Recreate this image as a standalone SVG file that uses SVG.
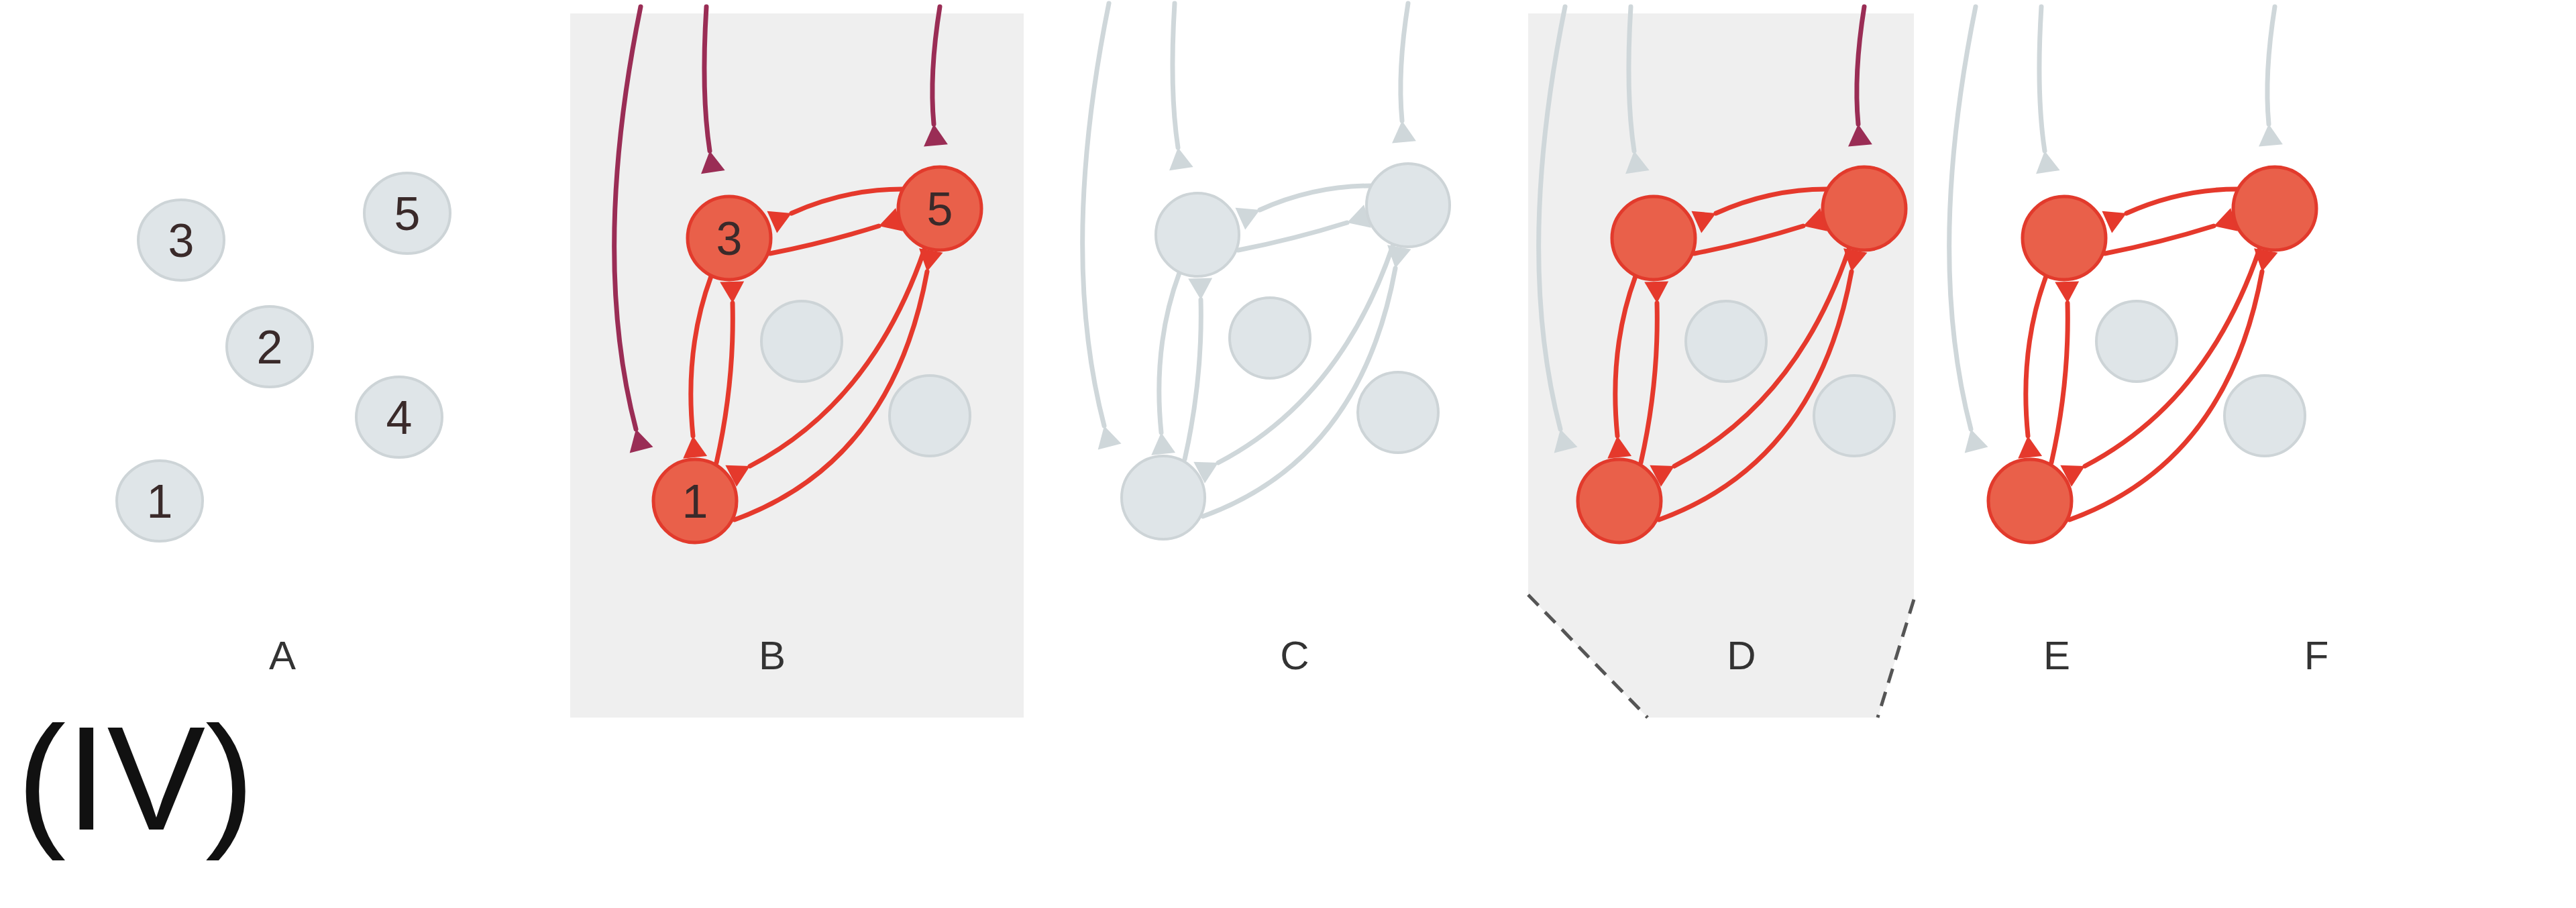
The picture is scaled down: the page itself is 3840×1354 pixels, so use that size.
<svg xmlns="http://www.w3.org/2000/svg" xmlns:xlink="http://www.w3.org/1999/xlink" width="3840" height="1354" viewBox="0 0 3840 1354">
<style>
.e{fill:none;stroke-width:7;stroke-linecap:round}
.red{stroke:#e5392c}
.gray{stroke:#cfd7da}
.mag{stroke:#9a2d55}
.ng{fill:#dfe5e8;stroke:#cdd4d7;stroke-width:4}
.nr{fill:#e9604a;stroke:#e23a2c;stroke-width:5}
.nl{font-family:"Liberation Sans",Arial,sans-serif;font-size:70px;fill:#3a2a2a;text-anchor:middle}
.pl{font-family:"Liberation Sans",Arial,sans-serif;font-size:60px;fill:#333;text-anchor:middle}
</style>
<defs>
<marker id="mr" markerUnits="userSpaceOnUse" viewBox="0 -20 40 40" refX="0" refY="0" markerWidth="40" markerHeight="40" orient="auto"><path d="M0,0 L32,-18 L32,18 z" fill="#e5392c"/></marker>
<marker id="mg" markerUnits="userSpaceOnUse" viewBox="0 -20 40 40" refX="0" refY="0" markerWidth="40" markerHeight="40" orient="auto"><path d="M0,0 L32,-18 L32,18 z" fill="#cfd7da"/></marker>
<marker id="mm" markerUnits="userSpaceOnUse" viewBox="0 -20 40 40" refX="0" refY="0" markerWidth="40" markerHeight="40" orient="auto"><path d="M0,0 L32,-18 L32,18 z" fill="#9a2d55"/></marker>
<g id="edges">
<path d="M1345,282 Q1260,282 1180,318"/>
<path d="M1148,378 Q1230,362 1310,337"/>
<path d="M1060,412 Q1020,520 1033,650"/>
<path d="M1068,690 Q1095,570 1092,452"/>
<path d="M1378,372 Q1300,600 1118,695"/>
<path d="M1095,775 Q1330,690 1382,405"/>
</g>
<path id="in1" d="M955,10 Q880,380 948,640"/>
<path id="in2" d="M1053,10 Q1045,140 1058,225"/>
<path id="in3" d="M1401,10 Q1385,110 1392,185"/>
</defs>
<rect x="850" y="20" width="676" height="1050" fill="#efefef"/>
<path d="M2278,20 H2853 V894 L2799,1070 H2456 L2278,887 Z" fill="#efefef"/>
<g id="d-dash" fill="none" stroke="#555" stroke-width="5" stroke-dasharray="22,14">
<path d="M2278,887 L2456,1070"/><path d="M2853,894 L2799,1070"/>
</g>
<g id="connectors">
<use href="#edges" class="e red" marker-end="url(#mr)"/>
<use href="#in1" class="e mag" marker-end="url(#mm)"/>
<use href="#in2" class="e mag" marker-end="url(#mm)"/>
<use href="#in3" class="e mag" marker-end="url(#mm)"/>
<g transform="translate(698,-5)">
<use href="#edges" class="e gray" marker-end="url(#mg)"/>
<use href="#in1" class="e gray" marker-end="url(#mg)"/>
<use href="#in2" class="e gray" marker-end="url(#mg)"/>
<use href="#in3" class="e gray" marker-end="url(#mg)"/>
</g>
<g transform="translate(1378,0)">
<use href="#edges" class="e red" marker-end="url(#mr)"/>
<use href="#in1" class="e gray" marker-end="url(#mg)"/>
<use href="#in2" class="e gray" marker-end="url(#mg)"/>
<use href="#in3" class="e mag" marker-end="url(#mm)"/>
</g>
<g transform="translate(1990,0)">
<use href="#edges" class="e red" marker-end="url(#mr)"/>
<use href="#in1" class="e gray" marker-end="url(#mg)"/>
<use href="#in2" class="e gray" marker-end="url(#mg)"/>
<use href="#in3" class="e gray" marker-end="url(#mg)"/>
</g>
</g>
<g id="A">
<g id="A1"><ellipse class="ng" cx="238" cy="747" rx="64" ry="60"/><text class="nl" x="238" y="772">1</text></g>
<g id="A2"><ellipse class="ng" cx="402" cy="517" rx="64" ry="60"/><text class="nl" x="402" y="542">2</text></g>
<g id="A3"><ellipse class="ng" cx="270" cy="358" rx="64" ry="60"/><text class="nl" x="270" y="383">3</text></g>
<g id="A4"><ellipse class="ng" cx="595" cy="622" rx="64" ry="60"/><text class="nl" x="595" y="647">4</text></g>
<g id="A5"><ellipse class="ng" cx="607" cy="318" rx="64" ry="60"/><text class="nl" x="607" y="343">5</text></g>
</g>
<g id="B">
<g id="B2"><circle class="ng" cx="1195" cy="509" r="60"/></g>
<g id="B4"><circle class="ng" cx="1386" cy="620" r="60"/></g>
<g id="B1"><circle class="nr" cx="1036" cy="747" r="62"/><text class="nl" x="1036" y="772">1</text></g>
<g id="B3"><circle class="nr" cx="1087" cy="355" r="62"/><text class="nl" x="1087" y="380">3</text></g>
<g id="B5"><circle class="nr" cx="1401" cy="311" r="62"/><text class="nl" x="1401" y="336">5</text></g>
</g>
<g id="C" transform="translate(698,-5)">
<g id="C1"><circle class="ng" cx="1036" cy="747" r="62"/></g>
<g id="C2"><circle class="ng" cx="1195" cy="509" r="60"/></g>
<g id="C3"><circle class="ng" cx="1087" cy="355" r="62"/></g>
<g id="C4"><circle class="ng" cx="1386" cy="620" r="60"/></g>
<g id="C5"><circle class="ng" cx="1401" cy="311" r="62"/></g>
</g>
<g id="D" transform="translate(1378,0)">
<g id="D2"><circle class="ng" cx="1195" cy="509" r="60"/></g>
<g id="D4"><circle class="ng" cx="1386" cy="620" r="60"/></g>
<g id="D1"><circle class="nr" cx="1036" cy="747" r="62"/></g>
<g id="D3"><circle class="nr" cx="1087" cy="355" r="62"/></g>
<g id="D5"><circle class="nr" cx="1401" cy="311" r="62"/></g>
</g>
<g id="E" transform="translate(1990,0)">
<g id="E2"><circle class="ng" cx="1195" cy="509" r="60"/></g>
<g id="E4"><circle class="ng" cx="1386" cy="620" r="60"/></g>
<g id="E1"><circle class="nr" cx="1036" cy="747" r="62"/></g>
<g id="E3"><circle class="nr" cx="1087" cy="355" r="62"/></g>
<g id="E5"><circle class="nr" cx="1401" cy="311" r="62"/></g>
</g>
<g id="labels">
<text class="pl" x="421" y="998">A</text>
<text class="pl" x="1151" y="998">B</text>
<text class="pl" x="1930" y="998">C</text>
<text class="pl" x="2596" y="998">D</text>
<text class="pl" x="3066" y="998">E</text>
<text class="pl" x="3453" y="998">F</text>
<text x="25" y="1237" font-family="Liberation Sans,Arial,sans-serif" font-size="220" fill="#111">(IV)</text>
</g>
</svg>
